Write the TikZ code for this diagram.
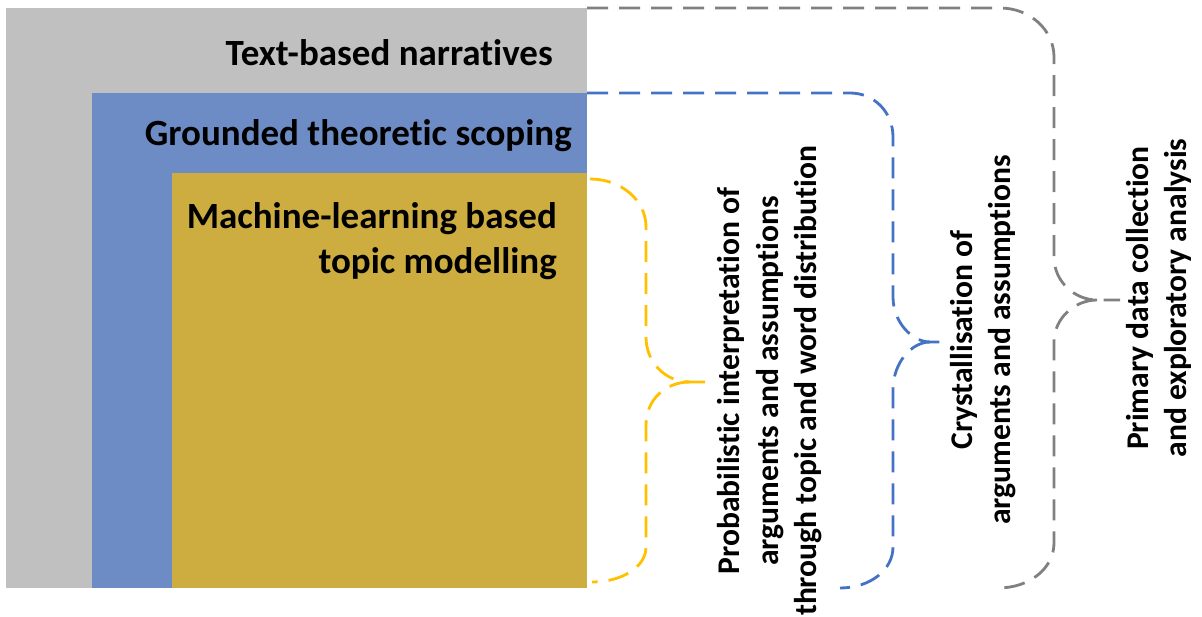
\documentclass[tikz,border=0pt]{standalone}
\usepackage{fontspec}
\setmainfont{Carlito}[Ligatures=NoCommon]
\definecolor{graybox}{RGB}{192,192,192}
\definecolor{bluebox}{RGB}{109,139,196}
\definecolor{goldbox}{RGB}{205,173,64}
\definecolor{grayline}{RGB}{128,128,128}
\definecolor{blueline}{RGB}{68,114,196}
\definecolor{goldline}{RGB}{255,192,0}
\begin{document}
\begin{tikzpicture}[x=1pt,y=-1pt,
  brace/.style={line width=2.8pt,dash pattern=on 21pt off 11pt},
  label/.style={font=\fontsize{37}{45}\selectfont\bfseries,inner sep=0pt,text=black},
  vlabel/.style={font=\fontsize{31.6}{38.5}\selectfont\bfseries,inner sep=0pt,text=black,rotate=90,align=center}]
\useasboundingbox (0,0) rectangle (1202,617);
% boxes
\fill[graybox] (6,8) rectangle (587,588);
\fill[bluebox] (92,93) rectangle (587,588);
\fill[goldbox] (172,173) rectangle (587,588);
\coordinate (gtop) at (587,8);
\coordinate (btop) at (587,93);
\coordinate (ytop) at (590,179);
% box labels
\node[label,anchor=east] (t1) at (553,53) {Text-based narratives};
\node[label,anchor=east] (t2) at (572,136) {Grounded theoretic scoping};
\node[label,anchor=east,align=right] (t3) at (557,241) {Machine-learning based\\topic modelling};
% gold brace
\draw[brace,goldline] (ytop) .. controls (621,179) and (646,200) .. (646,227) -- (646,337)
  .. controls (646,362) and (665,382) .. (690,382) -- (713,382);
\draw[brace,goldline] (690,382) .. controls (665,382) and (646,400) .. (646,425) -- (646,547)
  .. controls (646,567) and (622,582) .. (592,582);
% blue brace
\draw[brace,blueline] (btop) -- (850,93) .. controls (874,93) and (893,112) .. (893,137) -- (893,297)
  .. controls (893,322) and (912,342) .. (930,342) -- (947,342);
\draw[brace,blueline] (930,342) .. controls (912,342) and (893,362) .. (893,390) -- (893,547)
  .. controls (893,570) and (870,588) .. (840,588);
% gray brace
\draw[brace,grayline] (gtop) -- (1000,8) .. controls (1030,8) and (1054,30) .. (1054,57) -- (1054,257)
  .. controls (1054,282) and (1075,300) .. (1097,300) -- (1120,300);
\draw[brace,grayline] (1097,300) .. controls (1075,300) and (1054,318) .. (1054,342) -- (1054,543)
  .. controls (1054,568) and (1030,588) .. (998,588);
% brace labels
\node[vlabel] (l1) at (770,381) {Probabilistic interpretation of\\arguments and assumptions\\through topic and word distribution};
\node[vlabel] (l2) at (983,340) {Crystallisation of\\arguments and assumptions};
\node[vlabel] (l3) at (1159,298) {Primary data collection\\and exploratory analysis};
\end{tikzpicture}
\end{document}
